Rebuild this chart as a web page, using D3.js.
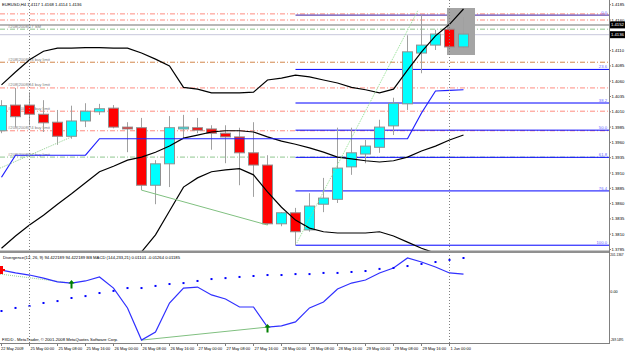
<!DOCTYPE html>
<head>
  <meta charset="utf-8" />
  <script src="https://d3js.org/d3.v7.min.js"></script>
  <style>
    body { margin: 0; background: #fff; }
    text { font-family: "Liberation Sans", Arial, sans-serif; }
  </style>
</head>
<body>
  <script>
    var width = 625, height = 352;
    var plotRight = 609, mainBottom = 251, subTop = 253, subBottom = 343;

    // EURUSD H4 bars, 22 May 16:00 .. 1 Jun 04:00
    var opens  = [1.3979,1.4021,1.4021,1.4006,1.3993,1.3970,1.3995,1.4010,1.4016,1.3985,1.3984,1.3890,1.3925,1.3982,1.3984,1.3982,1.3975,1.3969,1.3943,1.3923,1.3827,1.3845,1.3817,1.3859,1.3867,1.3920,1.3941,1.3952,1.3987,1.4023,1.4106,1.4119,1.4145,1.4116];
    var highs  = [1.4029,1.4049,1.4042,1.4029,1.4013,1.4020,1.4024,1.4023,1.4021,1.3993,1.4000,1.3931,1.4003,1.4005,1.4000,1.3988,1.3988,1.3984,1.3993,1.3939,1.3846,1.3853,1.3877,1.3902,1.3984,1.3984,1.3964,1.3997,1.4033,1.4135,1.4168,1.4144,1.4149,1.4165];
    var lows   = [1.3975,1.3985,1.3988,1.3977,1.3956,1.3966,1.3985,1.4005,1.3983,1.3944,1.3882,1.3859,1.3887,1.3966,1.3975,1.3948,1.3926,1.3890,1.3871,1.3825,1.3823,1.3792,1.3814,1.3846,1.3861,1.3907,1.3926,1.3943,1.3972,1.4013,1.4073,1.4111,1.4116,1.4114];
    var closes = [1.4020,1.4002,1.4006,1.3992,1.3970,1.3995,1.4011,1.4015,1.3985,1.3982,1.3890,1.3925,1.3984,1.3985,1.3980,1.3975,1.3969,1.3943,1.3923,1.3827,1.3845,1.3814,1.3856,1.3869,1.3918,1.3943,1.3954,1.3985,1.4024,1.4108,1.4119,1.4137,1.4116,1.4137];

    // band lines
    var bandUpper = [1.4054,1.4075,1.4095,1.4109,1.4114,1.4114,1.4115,1.4115,1.4114,1.4114,1.4106,1.4096,1.4085,1.4050,1.4047,1.4041,1.4041,1.4041,1.4042,1.4062,1.4065,1.4070,1.4067,1.4062,1.4057,1.4050,1.4046,1.4041,1.4047,1.4078,1.4108,1.4134,1.4153,1.4178];
    var bandMiddle = [1.3787,1.3807,1.3825,1.3841,1.3859,1.3876,1.3894,1.3912,1.3921,1.3931,1.3936,1.3944,1.3954,1.3967,1.3972,1.3977,1.3979,1.3979,1.3977,1.3969,1.3962,1.3957,1.3951,1.3944,1.3936,1.3933,1.3930,1.3928,1.3930,1.3936,1.3946,1.3954,1.3964,1.3972];
    var bandLower = [null,null,null,null,null,null,null,null,null,1.3743,1.3781,1.3809,1.3848,1.3887,1.3902,1.3912,1.3915,1.3917,1.3907,1.3879,1.3854,1.3833,1.3820,1.3814,1.3812,1.3812,1.3812,1.3814,1.3807,1.3797,1.3787,1.3779,1.3771,1.3764];
    var stepLine = [1.3903,1.3939,1.3939,1.3939,1.3939,1.3939,1.3939,1.3966,1.3966,1.3966,1.3966,1.3966,1.3966,1.3966,1.3966,1.3966,1.3966,1.3966,1.3966,1.3966,1.3966,1.3966,1.3966,1.3966,1.3966,1.3966,1.3966,1.3966,1.3966,1.3966,1.4008,1.4044,1.4045,1.4046];

    // lower pane
    var macdLine = [112,97,86,70,50,44,55,76,18,-86,-254,-212,-60,18,23,-18,-39,-81,-81,-186,-180,-159,-86,-55,13,44,60,97,123,175,154,128,97,91];
    var signalDots = [-102,-86,-76,-60,-50,-34,-24,-8,3,18,18,29,39,44,55,65,70,76,81,86,86,91,91,97,97,102,107,118,123,133,144,154,165,175];

    var priceTicks = [1.4185,1.4160,1.4135,1.4110,1.4085,1.4060,1.4035,1.4010,1.3985,1.3960,1.3935,1.3910,1.3885,1.3860,1.3835,1.3810,1.3785];
    var timeBars = [0,2,4,6,8,10,12,14,16,18,20,22,24,26,28,30,32];
    var timeLabels = ["22 May 2009","25 May 00:00","25 May 08:00","25 May 16:00","26 May 00:00","26 May 08:00","26 May 16:00","27 May 00:00","27 May 08:00","27 May 16:00","28 May 00:00","28 May 08:00","28 May 16:00","29 May 00:00","29 May 08:00","29 May 16:00","1 Jun 00:00"];

    var fibLevels = [0, 23.6, 38.2, 50.0, 61.8, 76.4, 100.0];
    var fibHigh = 1.4168, fibLow = 1.3792, fibStartBar = 21;

    var orderPrices = [1.4170,1.4160,1.4145,1.4091,1.4049,1.4011,1.3979,1.3936];
    var orderColors = ["#ff8c80","#ff8c80","#8fc68f","#d2874b","#ff8c80","#ff8c80","#ff8c80","#8fc68f"];
    var orderLabels = ["","","#208|2008|17 SM","#208|2008|83 buy limit","#208|2008|84 buy limit","#208|2008|84 buy limit","#208|2008|74 buy limit","#208|2008|34 buy limit"];

    var svg = d3.select("body").append("svg")
      .attr("width", width).attr("height", height);

    var x = d3.scaleLinear().domain([0, 33]).range([1.5, 463.5]);
    var y = d3.scaleLinear().domain([1.3785, 1.4185]).range([249.5, 4.7]);
    var ym = d3.scaleLinear().domain([-269.1495, 201.1367]).range([343, 253]);

    svg.append("rect").attr("width", width).attr("height", height).attr("fill", "#fff");

    var defs = svg.append("defs");
    defs.append("clipPath").attr("id", "clipMain").append("rect")
      .attr("x", 0).attr("y", 0).attr("width", plotRight).attr("height", mainBottom);
    defs.append("clipPath").attr("id", "clipSub").append("rect")
      .attr("x", 0).attr("y", subTop).attr("width", plotRight).attr("height", subBottom - subTop);

    var g = svg.append("g").attr("clip-path", "url(#clipMain)");
    var gs = svg.append("g").attr("clip-path", "url(#clipSub)");

    // period separators
    [2, 32].forEach(function (b) {
      svg.append("line").attr("x1", x(b)).attr("x2", x(b)).attr("y1", 0).attr("y2", subBottom)
        .attr("stroke", "#808080").attr("stroke-dasharray", "1,2");
    });

    // bid / ask lines
    g.append("line").attr("x1", 0).attr("x2", plotRight).attr("y1", y(1.4152)).attr("y2", y(1.4152))
      .attr("stroke", "#a0a0a0").attr("stroke-width", 1.5);
    g.append("line").attr("x1", 0).attr("x2", plotRight).attr("y1", y(1.4136)).attr("y2", y(1.4136))
      .attr("stroke", "#c8c8dc");

    // pending order lines
    orderPrices.forEach(function (p, i) {
      g.append("line").attr("x1", 0).attr("x2", plotRight).attr("y1", y(p)).attr("y2", y(p))
        .attr("stroke", orderColors[i]).attr("stroke-dasharray", "5,2,1,2");
      if (orderLabels[i]) {
        g.append("text").attr("x", 8).attr("y", y(p) - 1.5).attr("font-size", 4.2)
          .attr("fill", "#808080").text(orderLabels[i]);
      }
    });

    // fibonacci
    fibLevels.forEach(function (lv) {
      var p = fibHigh - (fibHigh - fibLow) * lv / 100;
      g.append("line").attr("x1", x(fibStartBar)).attr("x2", plotRight).attr("y1", y(p)).attr("y2", y(p))
        .attr("stroke", lv == 0 ? "#3c1ea0" : "#0000ff");
      g.append("text").attr("x", plotRight - 2).attr("y", y(p) - 1).attr("text-anchor", "end")
        .attr("font-size", 4.2).attr("fill", "#6464ff").text(lv.toFixed(1));
    });

    // selection rectangle
    g.append("rect").attr("x", 447).attr("y", 8).attr("width", 28).attr("height", 47)
      .attr("fill", "#a4a4a4");

    // candles
    var idx = d3.range(opens.length);
    g.selectAll(".wick").data(idx).join("line")
      .attr("x1", function (i) { return x(i); }).attr("x2", function (i) { return x(i); })
      .attr("y1", function (i) { return y(highs[i]); }).attr("y2", function (i) { return y(lows[i]); })
      .attr("stroke", "#a0a0a0");
    g.selectAll(".body").data(idx).join("rect")
      .attr("x", function (i) { return x(i) - 5; }).attr("width", 10)
      .attr("y", function (i) { return y(Math.max(opens[i], closes[i])); })
      .attr("height", function (i) { return Math.max(1, Math.abs(y(opens[i]) - y(closes[i]))); })
      .attr("fill", function (i) { return closes[i] >= opens[i] ? "#00ffff" : "#ff0000"; })
      .attr("stroke", "#909090");

    // indicator lines
    var line = d3.line().defined(function (d) { return d != null; })
      .x(function (d, i) { return x(i); }).y(function (d) { return y(d); });
    [bandUpper, bandMiddle, bandLower].forEach(function (arr) {
      g.append("path").attr("d", line(arr)).attr("fill", "none").attr("stroke", "#000").attr("stroke-width", 1.2);
    });
    g.append("path").attr("d", line(stepLine)).attr("fill", "none").attr("stroke", "#2020ff").attr("stroke-width", 1.2);

    // trend lines
    g.append("line").attr("x1", x(-0.1)).attr("y1", y(1.3918)).attr("x2", x(5)).attr("y2", y(1.3969))
      .attr("stroke", "#90d090").attr("stroke-dasharray", "1,1");
    g.append("line").attr("x1", x(21.1)).attr("y1", y(1.3796)).attr("x2", x(29.75)).attr("y2", y(1.4176))
      .attr("stroke", "#90e090").attr("stroke-dasharray", "1,1");
    g.append("line").attr("x1", x(10)).attr("y1", y(lows[10])).attr("x2", x(19)).attr("y2", y(lows[19]))
      .attr("stroke", "#80c080");

    // lower pane
    var mline = d3.line().x(function (d, i) { return x(i); }).y(function (d) { return ym(d); });
    gs.append("line").attr("x1", x(-0.1)).attr("y1", ym(91)).attr("x2", x(5)).attr("y2", ym(44))
      .attr("stroke", "#90d090").attr("stroke-dasharray", "1,1");
    gs.append("line").attr("x1", x(10)).attr("y1", ym(macdLine[10])).attr("x2", x(19)).attr("y2", ym(macdLine[19]))
      .attr("stroke", "#80c080");
    gs.append("path").attr("d", mline(macdLine)).attr("fill", "none").attr("stroke", "#3030ff").attr("stroke-width", 1.2);
    gs.selectAll(".dot").data(signalDots).join("rect")
      .attr("x", function (d, i) { return x(i) - 1; }).attr("y", function (d) { return ym(d) - 1; })
      .attr("width", 2).attr("height", 2).attr("fill", "#0000ff");
    // arrows
    [5, 19].forEach(function (b) {
      var ax = x(b), ay = ym(macdLine[b]);
      gs.append("path").attr("d", "M" + ax + "," + (ay - 3) + "l-3,3.5h2v5h2v-5h2z").attr("fill", "#008000");
    });
    gs.append("path").attr("d", "M0,266h3v3h2v2h-2v3h-3z").attr("fill", "#ff0000");

    // pane separator and borders
    svg.append("rect").attr("x", 0).attr("y", 250.5).attr("width", plotRight).attr("height", 2.5).attr("fill", "#909090");
    svg.append("line").attr("x1", 0).attr("x2", plotRight).attr("y1", 343.5).attr("y2", 343.5).attr("stroke", "#808080");
    svg.append("line").attr("x1", plotRight + 0.5).attr("x2", plotRight + 0.5).attr("y1", 0).attr("y2", 344).attr("stroke", "#808080");

    // price axis
    priceTicks.forEach(function (p) {
      svg.append("line").attr("x1", plotRight).attr("x2", plotRight + 2).attr("y1", y(p)).attr("y2", y(p)).attr("stroke", "#808080");
      svg.append("text").attr("x", plotRight + 2.5).attr("y", y(p) + 1.5).attr("font-size", 4.2).attr("fill", "#000")
        .text(p.toFixed(4));
    });
    [[1.4152, "1.4152"], [1.4136, "1.4136"]].forEach(function (b) {
      svg.append("rect").attr("x", plotRight + 1).attr("y", y(b[0]) - 3.5).attr("width", 15).attr("height", 7).attr("fill", "#000");
      svg.append("text").attr("x", plotRight + 2).attr("y", y(b[0]) + 1.5).attr("font-size", 4.2).attr("fill", "#fff").text(b[1]);
    });
    [[201.1367, "201.1367", 255.5, 3.2], [0, "0.00", 293, 3.8], [-269.1495, "-269.1495", 341, 2.9]].forEach(function (t) {
      svg.append("text").attr("x", plotRight + 1.3).attr("y", t[2]).attr("font-size", t[3]).text(t[1]);
    });

    // time axis
    timeBars.forEach(function (b, i) {
      svg.append("line").attr("x1", x(b)).attr("x2", x(b)).attr("y1", 343).attr("y2", 346).attr("stroke", "#808080");
      svg.append("text").attr("x", b == 0 ? 1 : x(b) + 1).attr("y", 349.5).attr("font-size", 3.9).text(timeLabels[i]);
    });

    // captions
    svg.append("text").attr("x", 2).attr("y", 6).attr("font-size", 4.2).text("EURUSD,H4  1.4117 1.4168 1.4114 1.4136");
    svg.append("text").attr("x", 3).attr("y", 259).attr("font-size", 4.2)
      .text("Divergence(12, 26, 9) 94.422189 94.422189  BB MACD (144,233,21) 0.01101 -0.01264 0.01185");
    svg.append("text").attr("x", 2).attr("y", 341).attr("font-size", 4.2)
      .text("FXDD - MetaTrader, \u00a9 2001-2008 MetaQuotes Software Corp.");
  </script>
</body>
